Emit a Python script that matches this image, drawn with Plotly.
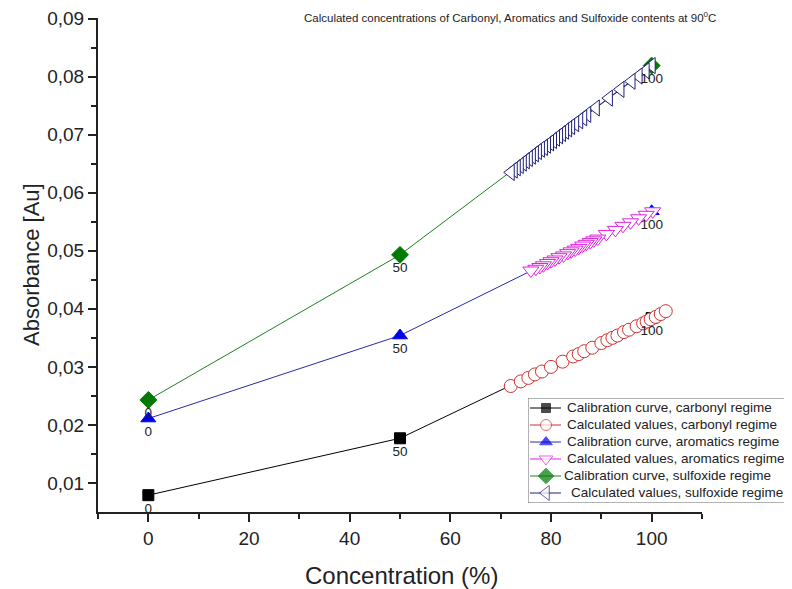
import plotly.graph_objects as go

# ---- data ----
cal_x = [0, 50, 100]
cal_labels = ["0", "50", "100"]

carb_cal_y = [0.0079, 0.0177, 0.0384]
arom_cal_y = [0.0211, 0.0354, 0.0568]
sulf_cal_y = [0.0243, 0.0493, 0.0819]

carb_calc_x = [72.0, 74.0, 75.5, 76.8, 78.2, 80.0, 82.3, 84.4, 85.5, 86.6, 88.2, 90.0,
               91.2, 92.2, 93.2, 94.5, 95.5, 97.0, 98.3, 99.0, 99.8, 100.8, 101.8, 102.8]
carb_calc_y = [0.0267, 0.0275, 0.0281, 0.0287, 0.0292, 0.0300, 0.0309, 0.0318, 0.0322,
               0.0327, 0.0333, 0.0341, 0.0346, 0.0350, 0.0354, 0.0360, 0.0364, 0.0370,
               0.0375, 0.0378, 0.0382, 0.0386, 0.0391, 0.0396]

# listed from highest to lowest concentration
arom_calc_x = [100.2, 98.9, 97.4, 95.8, 94.3, 92.8, 91.0, 89.3, 88.5, 87.8, 87.0, 86.3,
               85.5, 84.8, 84.0, 83.3, 82.5, 81.6, 80.8, 80.0, 79.3, 78.5, 77.8, 77.0, 76.0]
arom_calc_y = [0.0568, 0.0562, 0.0556, 0.0549, 0.0543, 0.0536, 0.0529, 0.0521, 0.0518,
               0.0515, 0.0512, 0.0509, 0.0505, 0.0502, 0.0499, 0.0496, 0.0492, 0.0489,
               0.0485, 0.0482, 0.0479, 0.0475, 0.0472, 0.0469, 0.0466]

sulf_calc_x = [100.0, 98.8, 97.4, 96.0, 93.8, 91.5, 88.9, 87.2, 86.4, 85.6, 84.8, 84.0,
               83.4, 82.8, 82.2, 81.6, 81.0, 80.4, 79.8, 79.2, 78.6, 78.0, 77.4, 76.8,
               76.2, 75.6, 75.0, 74.4, 73.8, 73.2, 72.6, 72.0]
sulf_calc_y = [0.0819, 0.0810, 0.0801, 0.0792, 0.0778, 0.0763, 0.0746, 0.0735, 0.0729,
               0.0724, 0.0719, 0.0714, 0.0710, 0.0706, 0.0702, 0.0698, 0.0694, 0.0690,
               0.0686, 0.0682, 0.0678, 0.0675, 0.0671, 0.0667, 0.0663, 0.0659, 0.0655,
               0.0651, 0.0647, 0.0643, 0.0639, 0.0635]

x_ticks = [0, 20, 40, 60, 80, 100]
y_ticks = [0.01, 0.02, 0.03, 0.04, 0.05, 0.06, 0.07, 0.08, 0.09]

series_names = ["Calibration curve, carbonyl regime",
                "Calculated values, carbonyl regime",
                "Calibration curve, aromatics regime",
                "Calculated values, aromatics regime",
                "Calibration curve, sulfoxide regime",
                "Calculated values, sulfoxide regime"]

FONT = "Liberation Sans, Arial, sans-serif"
TXT = "#222222"

# ---- styles (per series) ----
styles = [
    dict(line="black", sym="square", size=11, fill="black", mline="black"),
    dict(line="#d03030", sym="circle", size=13, fill="white", mline="#d03030"),
    dict(line="#2a2aa8", sym="triangle-up", size=13, fill="#0000ee", mline="#0000ee"),
    dict(line="#e020e0", sym="triangle-down", size=14, fill="white", mline="#e020e0"),
    dict(line="#208020", sym="diamond", size=13, fill="#007a00", mline="#007a00"),
    dict(line="#20207a", sym="triangle-left", size=14, fill="white", mline="#20207a"),
]
series_xy = [(cal_x, carb_cal_y), (carb_calc_x, carb_calc_y),
             (cal_x, arom_cal_y), (arom_calc_x, arom_calc_y),
             (cal_x, sulf_cal_y), (sulf_calc_x, sulf_calc_y)]

fig = go.Figure()

for (xs, ys), st, nm in zip(series_xy, styles, series_names):
    fig.add_trace(go.Scatter(
        x=xs, y=ys, mode="lines+markers", name=nm, showlegend=False,
        line=dict(color=st["line"], width=1),
        marker=dict(symbol=st["sym"], size=st["size"], color=st["fill"],
                    line=dict(color=st["mline"], width=1))))

# data labels on calibration points
for ys in (carb_cal_y, arom_cal_y, sulf_cal_y):
    fig.add_trace(go.Scatter(x=cal_x, y=ys, mode="markers+text", text=cal_labels,
                             textposition="bottom center", showlegend=False,
                             hoverinfo="skip",
                             marker=dict(size=10, color="rgba(0,0,0,0)"),
                             textfont=dict(family=FONT, size=13.5, color=TXT)))

# ---- manual legend drawn in an overlay subplot measured in pixels ----
L_X0, L_X1, L_Y0, L_Y1 = 528, 790, 398, 503
row_y = [408, 425, 442, 459, 476, 493]
text_x = [565, 565, 565, 565, 562, 569]
leg_sizes = [9, 11, 11, 12, 12, 13]
for i, st in enumerate(styles):
    fig.add_trace(go.Scatter(
        x=[530, 546, 561], y=[row_y[i]] * 3, xaxis="x2", yaxis="y2",
        mode="lines+markers", showlegend=False, hoverinfo="skip",
        line=dict(color=st["line"], width=1),
        marker=dict(symbol=st["sym"], size=[0, leg_sizes[i], 0], color=st["fill"],
                    line=dict(color=st["mline"], width=1))))
    fig.add_annotation(text=series_names[i], xref="x2", yref="y2", x=text_x[i], y=row_y[i],
                       xanchor="left", yanchor="middle", showarrow=False,
                       font=dict(family=FONT, size=13.5, color=TXT))
fig.add_shape(type="rect", xref="x2", yref="y2", x0=L_X0, x1=L_X1, y0=L_Y0, y1=L_Y1,
              line=dict(color="#666666", width=1), fillcolor="white", layer="below")

# ---- titles ----
W_PLOT = 692.0
fig.add_annotation(text="Calculated concentrations of Carbonyl, Aromatics and Sulfoxide contents at 90<sup>0</sup>C",
                   xref="paper", yref="paper", x=(510 - 98) / W_PLOT, y=1.002,
                   xanchor="center", yanchor="middle", showarrow=False,
                   font=dict(family=FONT, size=11.5, color=TXT))
fig.add_annotation(text="Absorbance [Au]", xref="paper", yref="paper",
                   x=(31 - 98) / W_PLOT, y=0.5, textangle=-90,
                   xanchor="center", yanchor="middle", showarrow=False,
                   font=dict(family=FONT, size=22, color=TXT))
fig.add_annotation(text="Concentration (%)", xref="paper", yref="paper",
                   x=(401 - 98) / W_PLOT, y=(512 - 575) / 494.0,
                   xanchor="center", yanchor="middle", showarrow=False,
                   font=dict(family=FONT, size=24, color=TXT))

# the page body adds an 8px offset; the figure is sized so the plot area lands at x 98-702, y 18-512
fig.update_layout(
    width=784, height=581,
    margin=dict(l=90, r=2, t=10, b=77),
    paper_bgcolor="white", plot_bgcolor="white",
    separators=",.",
    font=dict(family=FONT, color=TXT),
    showlegend=False,
    xaxis=dict(domain=[0, 604 / W_PLOT], range=[-10, 110], tickvals=x_ticks,
               showgrid=False, zeroline=False, showline=True, linecolor=TXT,
               linewidth=2, ticks="outside", ticklen=8, tickwidth=2, tickcolor=TXT,
               minor=dict(tickvals=[-10, 10, 30, 50, 70, 90, 110], ticks="outside",
                          ticklen=5, tickwidth=2, tickcolor=TXT),
               tickfont=dict(family=FONT, size=19, color=TXT), automargin=False,
               ticklabeloverflow="allow"),
    yaxis=dict(range=[0.005, 0.0901], tickvals=y_ticks, tickformat=".2f",
               showgrid=False, zeroline=False, showline=True, linecolor=TXT,
               linewidth=2, ticks="outside", ticklen=8, tickwidth=2, tickcolor=TXT,
               minor=dict(tickvals=[0.015, 0.025, 0.035, 0.045, 0.055, 0.065, 0.075, 0.085],
                          ticks="outside", ticklen=5, tickwidth=2, tickcolor=TXT),
               tickfont=dict(family=FONT, size=19, color=TXT), automargin=False,
               ticklabeloverflow="allow"),
    xaxis2=dict(domain=[(L_X0 - 98) / W_PLOT, (L_X1 - 98) / W_PLOT], range=[L_X0, L_X1],
                anchor="y2", visible=False, fixedrange=True),
    yaxis2=dict(domain=[(512 - L_Y1) / 494.0, (512 - L_Y0) / 494.0], range=[L_Y1, L_Y0],
                anchor="x2", visible=False, fixedrange=True),
)

fig.write_html("out.html")
